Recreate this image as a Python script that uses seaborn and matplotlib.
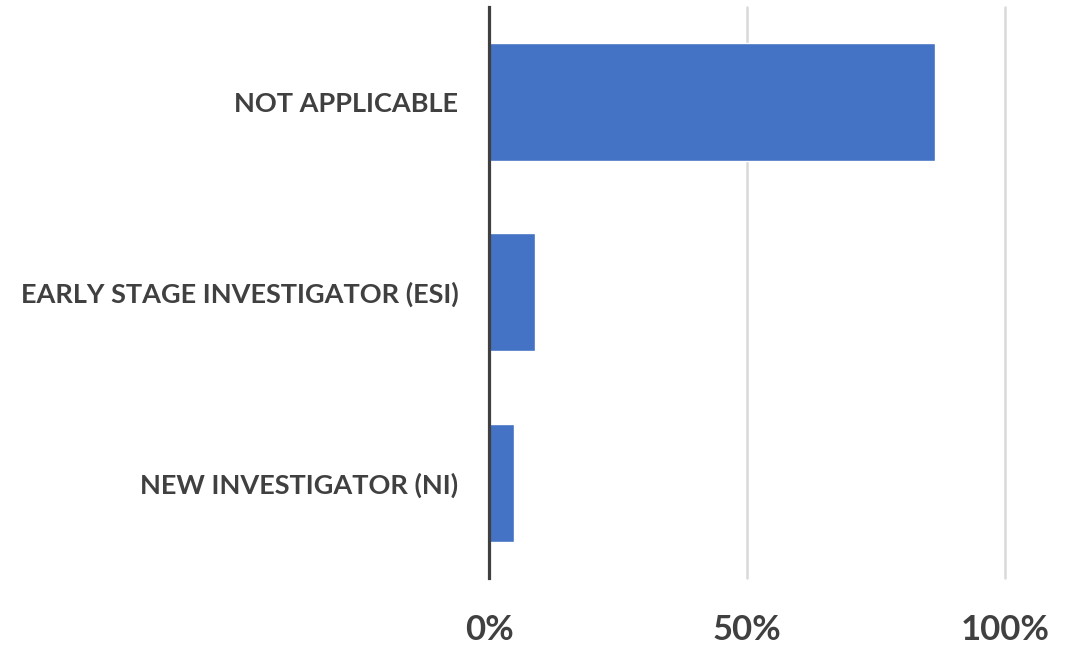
import matplotlib
matplotlib.use("Agg")
import matplotlib.pyplot as plt
import seaborn as sns
import pandas as pd
from matplotlib.ticker import FuncFormatter

categories = ["NOT APPLICABLE", "EARLY STAGE INVESTIGATOR (ESI)", "NEW INVESTIGATOR (NI)"]
shares = [86.4, 8.9, 4.8]
x_ticks = [0, 50, 100]

df = pd.DataFrame({"category": categories, "share": shares})

sns.set_style("white")
plt.rcParams["font.family"] = ["Lato", "DejaVu Sans"]

fig = plt.figure(figsize=(10.81, 6.46), dpi=100)
ax = fig.add_axes([0.4524, 0.1053, 0.4773, 0.8839])

sns.barplot(data=df, x="share", y="category", orient="h", color="#4472C4",
            saturation=1, width=0.62, ax=ax)

ax.set_xlim(0, 100)
ax.set_xticks(x_ticks)
ax.xaxis.set_major_formatter(FuncFormatter(lambda v, p: f"{v:.0f}%"))
ax.grid(axis="x", color="#d9d9d9", linewidth=1.8)
for gl in ax.get_xgridlines():
    gl.set_clip_on(False)
ax.set_axisbelow(True)
ax.set_xlabel("")
ax.set_ylabel("")

for s in ["top", "right", "bottom"]:
    ax.spines[s].set_visible(False)
ax.spines["left"].set_color("#404040")
ax.spines["left"].set_linewidth(2.3)
ax.spines["left"].set_zorder(5)

ax.tick_params(axis="y", length=0, pad=22, labelsize=19.5, labelcolor="#404040")
ax.tick_params(axis="x", length=0, pad=26, labelsize=25, labelcolor="#404040")
for lab in ax.get_yticklabels() + ax.get_xticklabels():
    lab.set_fontweight("bold")

fig.savefig("out.png", dpi=100)
